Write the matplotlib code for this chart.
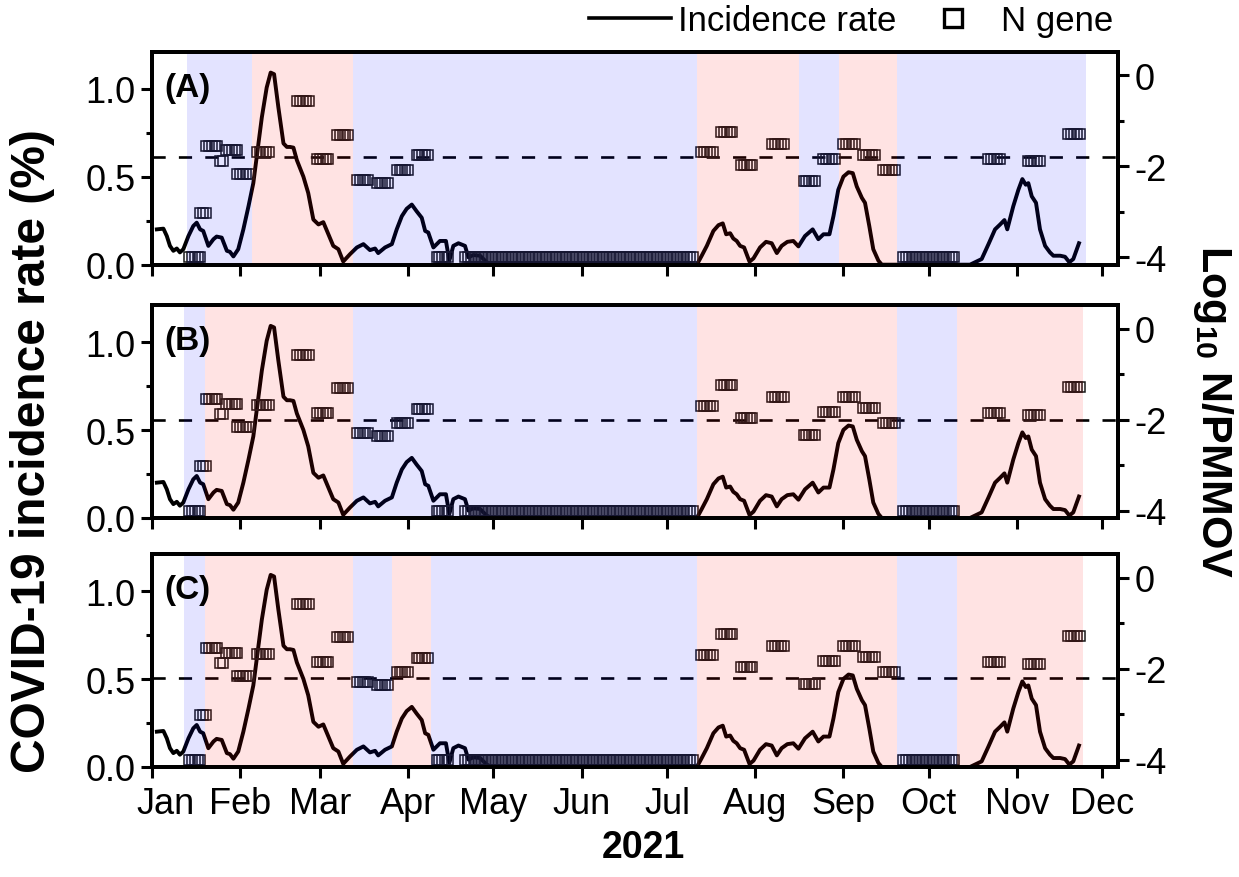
import numpy as np
import matplotlib
matplotlib.use("Agg")
import matplotlib.pyplot as plt
from matplotlib.lines import Line2D
from matplotlib.transforms import ScaledTranslation

plt.rcParams.update({"font.family": "Liberation Sans", "font.size": 24,
                     "axes.unicode_minus": False, "mathtext.fontset": "custom",
                     "mathtext.rm": "Liberation Sans",
                     "mathtext.bf": "Liberation Sans:bold"})

# x is day of 2021 (0 = 1 Jan)
MONTH_DAYS = [0, 31, 59, 90, 120, 151, 181, 212, 243, 273, 304, 334]
MONTHS = ["Jan", "Feb", "Mar", "Apr", "May", "Jun", "Jul", "Aug", "Sep",
          "Oct", "Nov", "Dec"]

# COVID-19 incidence rate (%)
inc_day = [1.7, 4.0, 5.2, 6.3, 7.5, 8.7, 9.8, 11.0, 12.8, 14.5, 15.7, 16.9,
           18.0, 19.8, 21.6, 22.7, 24.5, 26.3, 27.4, 28.6, 30.3, 32.1, 33.9,
           35.6, 36.8, 38.6, 40.3, 41.7, 42.9, 44.4, 46.2, 47.4, 48.5, 49.7,
           50.9, 53.2, 54.9, 56.7, 58.5, 60.2, 62.0, 63.7, 65.5, 67.2, 69.6,
           72.0, 74.3, 76.6, 78.4, 79.5, 81.9, 84.3, 86.0, 87.8, 89.5, 91.3,
           93.0, 94.8, 96.0, 97.1, 98.9, 101.2, 103.3, 104.5, 105.9, 107.7,
           110.0, 111.2, 112.9, 115.3, 117.6, 119.4, 191.5, 193.2, 195.0,
           197.3, 199.1, 200.6, 201.8, 203.2, 204.3, 205.5, 206.7, 208.1,
           210.0, 211.4, 213.7, 215.8, 217.8, 219.6, 221.3, 223.3, 225.4,
           227.2, 229.5, 232.2, 234.2, 236.0, 238.1, 239.5, 241.2, 243.0,
           244.8, 246.3, 247.7, 249.5, 250.6, 252.1, 253.5, 255.3, 256.5,
           287.5, 291.6, 294.0, 296.3, 298.1, 299.6, 300.6, 302.7, 304.5,
           305.9, 307.1, 308.0, 309.2, 310.7, 312.1, 313.9, 315.6, 316.8,
           319.2, 320.9, 322.4, 323.8, 325.8]
inc_val = [0.201, 0.205, 0.163, 0.107, 0.079, 0.092, 0.070, 0.088, 0.163,
           0.220, 0.239, 0.201, 0.192, 0.107, 0.145, 0.160, 0.154, 0.079,
           0.073, 0.047, 0.088, 0.201, 0.332, 0.464, 0.614, 0.839, 1.008,
           1.093, 1.084, 0.896, 0.690, 0.670, 0.670, 0.666, 0.595, 0.501,
           0.408, 0.257, 0.229, 0.242, 0.173, 0.107, 0.088, 0.018, 0.060,
           0.098, 0.117, 0.083, 0.092, 0.066, 0.098, 0.117, 0.201, 0.276,
           0.318, 0.342, 0.304, 0.267, 0.192, 0.183, 0.098, 0.135, 0.135,
           0.023, 0.107, 0.122, 0.107, 0.042, 0.055, 0.051, 0.014, 0.0,
           0.0, 0.051, 0.107, 0.192, 0.225, 0.235, 0.173, 0.179, 0.149,
           0.135, 0.107, 0.098, 0.017, 0.036, 0.098, 0.130, 0.122, 0.066,
           0.107, 0.130, 0.135, 0.104, 0.163, 0.201, 0.145, 0.173, 0.173,
           0.276, 0.426, 0.501, 0.526, 0.521, 0.445, 0.380, 0.352, 0.220,
           0.088, 0.023, 0.0, 0.0, 0.032, 0.117, 0.201, 0.229, 0.254,
           0.201, 0.332, 0.426, 0.487, 0.455, 0.464, 0.389, 0.352, 0.201,
           0.107, 0.070, 0.051, 0.051, 0.045, 0.014, 0.032, 0.122]

# N gene, log10 N/PMMOV: runs of daily points (first day, last day, value)
ng_first = [13, 17, 19, 24, 26, 30, 37, 51, 58, 65, 72, 79, 86, 93, 100,
            110, 193, 200, 207, 218, 229, 236, 243, 250, 257, 264, 294, 308,
            322]
ng_last = [17, 19, 23, 25, 30, 34, 41, 55, 62, 69, 76, 83, 90, 97, 104,
           190, 197, 204, 211, 222, 233, 240, 247, 254, 261, 282, 298, 312,
           326]
ng_val = [-4.0, -3.02, -1.55, -1.88, -1.65, -2.17, -1.68, -0.57, -1.85,
          -1.31, -2.30, -2.36, -2.08, -1.76, -4.0, -4.0, -1.69, -1.24, -1.96,
          -1.51, -2.33, -1.84, -1.51, -1.75, -2.07, -4.0, -1.85, -1.89, -1.28]

# shaded periods (start day, end day, 'b' blue / 'r' red) for each panel
shade_a = [(12.2, 35.2, "b"), (35.2, 70.8, "r"), (70.8, 191.5, "b"),
           (191.5, 227.4, "r"), (227.4, 241.5, "b"), (241.5, 261.8, "r"),
           (261.8, 328.2, "b")]
shade_b = [(11.3, 18.7, "b"), (18.7, 70.8, "r"), (70.8, 191.5, "b"),
           (191.5, 262.0, "r"), (262.0, 283.0, "b"), (283.0, 327.3, "r")]
shade_c = [(11.3, 18.7, "b"), (18.7, 70.6, "r"), (70.6, 84.5, "b"),
           (84.5, 98.1, "r"), (98.1, 191.5, "b"), (191.5, 262.0, "r"),
           (262.0, 283.0, "b"), (283.0, 327.3, "r")]
thresholds = [-1.8, -2.0, -2.2]
panel_tags = ["(A)", "(B)", "(C)"]
shades = [shade_a, shade_b, shade_c]
SHADE_COL = {"b": "#0000ff", "r": "#ff0000"}

# expand N gene runs to daily points
ng_x = np.concatenate([np.arange(a, b + 1) for a, b in zip(ng_first, ng_last)])
ng_y = np.concatenate([np.full(b - a + 1, v)
                       for a, b, v in zip(ng_first, ng_last, ng_val)])

fig = plt.figure(figsize=(12.39, 8.78), dpi=100)
bottoms = [0.6974, 0.4089, 0.1253]
LEFT, WIDTH, HEIGHT = 0.1227, 0.7796, 0.2422
SPW = 2.8
TICK_FS = 26

for i in range(3):
    ax = fig.add_axes([LEFT, bottoms[i], WIDTH, HEIGHT])
    ax2 = ax.twinx()
    ax.plot(inc_day, inc_val, color="black", lw=2.8, zorder=2,
            solid_joinstyle="round")
    ax2.plot(ng_x, ng_y, ls="none", marker="s", ms=7.8, mfc="none",
             mec="#1a1a1a", mew=1.1, zorder=1.6)
    ax2.axhline(thresholds[i], color="black", lw=1.9,
                ls=(0, (5.0, 5.0)), zorder=1.5)
    for s, e, c in shades[i]:
        ax2.axvspan(s, e, color=SHADE_COL[c], alpha=0.11, lw=0, zorder=2)

    ax.set_xlim(0, 339.5)
    ax.set_ylim(0, 1.21)
    ax2.set_ylim(-4.16, 0.51)
    ax.set_yticks([0.0, 0.5, 1.0])
    ax.set_yticklabels(["0.0", "0.5", "1.0"])
    ax.set_yticks([0.25, 0.75], minor=True)
    ax2.set_yticks([0, -2, -4])
    ax2.set_yticks([-1, -3], minor=True)
    ax.set_xticks(MONTH_DAYS)
    ax.set_xticklabels(MONTHS)
    for a in (ax, ax2):
        a.tick_params(which="major", direction="out", length=8, width=2.2,
                      labelsize=TICK_FS, pad=4)
        a.tick_params(which="minor", direction="out", length=4.5, width=2.2)
        for sp in a.spines.values():
            sp.set_linewidth(SPW)
    ax.tick_params(axis="x", pad=6)
    if i < 2:
        ax.tick_params(axis="x", labelbottom=False)
    else:
        t0 = ax.xaxis.get_major_ticks()[0].label1
        t0.set_transform(t0.get_transform() +
                         ScaledTranslation(0.14, 0, fig.dpi_scale_trans))
    ax2.text(0.013, 0.835, panel_tags[i], transform=ax2.transAxes,
             fontsize=24, fontweight="bold", ha="left", va="center", zorder=5)

fig.text(0.026, 0.486, "COVID-19 incidence rate (%)", rotation=90,
         fontsize=34.5, fontweight="bold", ha="center", va="center")
fig.text(0.979, 0.531, r"Log$_{\mathbf{10}}$ N/PMMOV", rotation=-90,
         fontsize=31, fontweight="bold", ha="center", va="center")
fig.text(0.519, 0.034, "2021", fontsize=27, fontweight="bold",
         ha="center", va="center")

handles = [Line2D([], [], color="black", lw=2.6),
           Line2D([], [], ls="none", marker="s", ms=12.5, mfc="none",
                  mec="black", mew=2.4)]
fig.legend(handles, ["Incidence rate", "N gene"], loc="center right",
           bbox_to_anchor=(0.8985, 0.975), ncol=2, frameon=False, fontsize=25,
           handlelength=2.36, handletextpad=0.2, columnspacing=0.45,
           borderaxespad=0, borderpad=0)

fig.savefig("out.png", dpi=100)
